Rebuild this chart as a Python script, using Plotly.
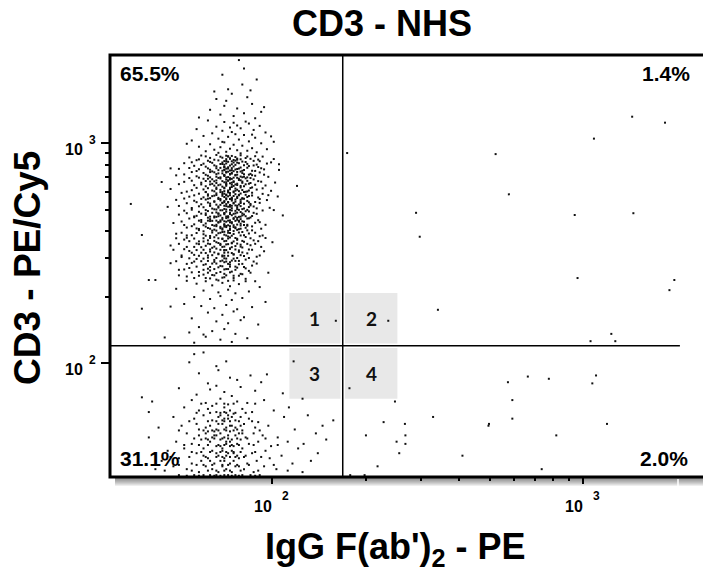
import math
import plotly.graph_objects as go

# ---------------- chart values ----------------
TITLE = "CD3 - NHS"
X_LABEL = "IgG F(ab')<sub>2</sub> - PE"
Y_LABEL = "CD3 - PE/Cy5"

X_GATE = 168.4          # vertical quadrant gate (IgG F(ab')2 - PE)
Y_GATE = 120.2          # horizontal quadrant gate (CD3 - PE/Cy5)
H_GATE_END = 2050       # where the horizontal gate line stops

QUADRANT_PCT = ["65.5%", "1.4%", "31.1%", "2.0%"]   # UL, UR, LL, LR
QUADRANT_IDS = ["1", "2", "3", "4"]
ID_BOX_X = [113.4, 252.5]
ID_BOX_Y = [68.9, 208.8]

MAJOR_TICKS = [100, 1000]
MAJOR_BASE = ["10", "10"]
MAJOR_EXP = ["2", "3"]
MINOR_TICKS = [200, 300, 400, 500, 600, 700, 800, 900]
X_RANGE = [30.0, 2506.0]
Y_RANGE = [30.4, 2520.0]

# events, (IgG F(ab')2-PE, CD3-PE/Cy5)
UPPER_TOP = [
    (78, 2390), (81, 2190), (72, 1760), (89, 1950), (74, 1680), (66, 1590), (83, 1620), (70, 1480),
    (86, 1510), (63, 1420), (77, 1440), (92, 1390), (68, 1350), (75, 1330), (81, 1370), (58, 1310),
    (88, 1300), (71, 1560), (80, 1850), (65, 1720), (94, 1460), (69, 2050), (85, 1740),
    (62, 1270), (70, 1250), (75, 1240), (84, 1230), (91, 1200), (66, 1190), (73, 1180), (79, 1170),
    (57, 1160), (87, 1150), (69, 1140), (95, 1120), (64, 1110), (76, 1100), (81, 1090), (60, 1080),
    (72, 1070), (88, 1060), (67, 1050), (78, 1040), (55, 1030), (84, 1020), (70, 1010), (92, 1000),
    (63, 990), (75, 985), (80, 975), (58, 965), (68, 960), (86, 950), (73, 945), (96, 940),
    (65, 935), (77, 930), (83, 925), (61, 920), (71, 915), (89, 910), (67, 905), (79, 900),
    (74, 1125), (86, 1095), (69, 1015), (99, 1075), (53, 995), (82, 1255), (77, 1205),
]
UPPER_MID = [
    (59, 880), (66, 885), (71, 878), (74, 876), (79, 882), (88, 874), (93, 870),
    (54, 862), (63, 858), (69, 860), (73, 855), (77, 852), (82, 857), (85, 850), (101, 848),
    (57, 838), (62, 833), (67, 836), (70, 830), (74, 828), (76, 834), (80, 826), (87, 832), (91, 829),
    (52, 812), (60, 808), (64, 815), (68, 805), (71, 810), (74, 803), (78, 812), (83, 806), (89, 800), (96, 809),
    (56, 790), (61, 783), (66, 786), (70, 781), (72, 778), (75, 785), (79, 776), (84, 788), (90, 780),
    (50, 765), (58, 762), (63, 758), (67, 755), (70, 760), (73, 752), (77, 764), (81, 756), (86, 750), (94, 761), (105, 757),
    (55, 740), (60, 733), (65, 738), (69, 730), (71, 736), (74, 728), (77, 741), (80, 732), (85, 726), (91, 737),
    (49, 715), (57, 708), (62, 712), (66, 705), (70, 710), (72, 702), (76, 714), (79, 706), (83, 700), (88, 712), (97, 704),
    (54, 695), (60, 690), (64, 686), (68, 692), (71, 684), (74, 689), (78, 681), (82, 693), (87, 685),
    (52, 668), (59, 662), (63, 670), (66, 660), (70, 665), (73, 658), (75, 667), (80, 661), (84, 655), (92, 669), (102, 663),
    (56, 645), (61, 638), (65, 642), (69, 635), (71, 641), (74, 633), (77, 646), (81, 637), (86, 630), (95, 643),
    (47, 620), (55, 612), (60, 617), (64, 610), (68, 614), (70, 606), (73, 618), (76, 609), (80, 613), (83, 604), (89, 616), (99, 608),
]
UPPER_CORE = [
    (51, 595), (58, 590), (62, 586), (66, 592), (69, 588), (71, 584), (73, 594), (76, 587), (79, 591), (82, 583), (86, 596), (93, 589),
    (54, 572), (60, 568), (64, 575), (67, 565), (70, 570), (72, 574), (74, 566), (77, 571), (80, 563), (84, 576), (90, 567), (104, 573),
    (49, 553), (56, 548), (61, 555), (65, 545), (68, 550), (70, 546), (71, 556), (74, 549), (76, 543), (79, 554), (83, 547), (88, 541), (96, 552),
    (53, 534), (59, 528), (63, 532), (66, 526), (69, 535), (71, 529), (73, 524), (75, 533), (78, 527), (81, 531), (85, 522), (91, 536),
    (46, 514), (55, 508), (60, 512), (64, 505), (67, 510), (70, 503), (72, 515), (74, 507), (77, 511), (80, 502), (84, 513), (89, 506), (98, 509),
    (52, 494), (58, 488), (62, 492), (66, 485), (69, 496), (71, 489), (73, 484), (76, 493), (79, 487), (82, 491), (87, 483), (93, 495),
    (50, 474), (57, 468), (61, 472), (65, 465), (68, 470), (70, 476), (72, 466), (74, 471), (78, 463), (81, 475), (86, 467), (108, 470),
    (54, 455), (59, 448), (63, 452), (66, 445), (69, 450), (71, 457), (73, 446), (75, 453), (77, 449), (80, 442), (84, 456), (90, 447),
    (48, 434), (56, 428), (61, 432), (64, 425), (67, 436), (70, 429), (72, 424), (74, 433), (77, 427), (79, 431), (83, 422), (88, 435), (95, 426),
    (53, 414), (58, 408), (62, 412), (65, 405), (69, 410), (71, 416), (73, 404), (76, 411), (78, 407), (82, 413), (86, 402), (92, 409),
    (60, 398), (66, 401), (70, 396), (75, 399), (80, 395),
    (70, 780), (72, 768), (74, 755), (71, 742), (73, 725), (70, 718), (75, 698), (72, 676), (74, 662), (71, 650),
    (70, 628), (73, 622), (75, 604), (72, 598), (71, 580), (74, 562), (73, 558), (70, 540), (72, 538), (74, 520),
    (71, 518), (73, 498), (70, 480), (75, 478), (72, 460), (71, 440), (74, 438), (73, 420), (70, 418), (72, 392),
    (76, 760), (77, 720), (78, 690), (76, 650), (77, 615), (78, 580), (76, 555), (77, 520), (78, 498), (76, 480),
    (77, 458), (78, 440), (76, 415), (66, 770), (67, 730), (68, 700), (65, 672), (67, 645), (66, 620), (68, 600),
    (65, 578), (67, 558), (68, 525), (66, 500), (67, 480), (65, 460), (68, 440), (66, 420), (69, 395), (80, 750),
    (81, 705), (80, 670), (79, 640), (81, 600), (80, 560), (79, 535), (81, 505), (80, 470), (79, 452), (81, 425),
    (63, 740), (62, 690), (63, 650), (61, 600), (62, 560), (63, 520), (61, 480), (62, 445), (84, 720), (85, 660),
    (84, 610), (83, 570), (85, 530), (84, 490), (83, 455), (69, 805), (71, 830), (73, 850), (75, 818), (77, 842),
    (72, 870), (70, 755), (74, 735), (73, 685), (71, 665), (75, 640), (72, 610), (70, 590),
]
UPPER_FILL = [
    (61, 872), (68, 869), (72, 873), (76, 866), (83, 871),
    (58, 845), (65, 842), (71, 847), (75, 840), (79, 846), (90, 843),
    (55, 820), (63, 823), (69, 818), (72, 824), (77, 817), (82, 822), (99, 819),
    (59, 797), (65, 794), (70, 799), (73, 792), (76, 798), (81, 795), (87, 793),
    (54, 772), (62, 769), (68, 773), (71, 767), (74, 771), (78, 768), (83, 774), (92, 770),
    (57, 748), (64, 745), (69, 750), (72, 743), (75, 747), (79, 744), (88, 749),
    (52, 722), (61, 719), (66, 724), (70, 717), (73, 721), (76, 718), (81, 723), (86, 716), (94, 720),
    (58, 698), (63, 700), (67, 696), (71, 699), (73, 694), (77, 697), (80, 701), (85, 695),
    (55, 676), (61, 674), (66, 678), (69, 673), (72, 677), (75, 672), (79, 679), (83, 675), (90, 673),
    (50, 652), (59, 650), (64, 654), (68, 649), (71, 653), (74, 648), (77, 655), (82, 651), (88, 648),
    (57, 627), (62, 625), (66, 629), (70, 624), (73, 628), (76, 623), (79, 630), (85, 626), (93, 624),
    (53, 603), (61, 601), (65, 605), (69, 600), (72, 604), (75, 599), (78, 606), (82, 602),
    (56, 580), (62, 578), (66, 582), (69, 577), (73, 581), (75, 576), (78, 583), (86, 579), (97, 581),
    (52, 561), (59, 559), (63, 563), (68, 558), (71, 562), (74, 557), (77, 564), (81, 560), (91, 558),
    (57, 540), (62, 538), (65, 542), (69, 537), (72, 541), (75, 536), (79, 543), (84, 539),
    (50, 519), (58, 517), (63, 521), (67, 516), (70, 520), (73, 515), (76, 522), (79, 518), (87, 516),
    (55, 499), (61, 497), (65, 501), (68, 496), (71, 500), (74, 495), (77, 502), (83, 498), (101, 497),
    (53, 481), (59, 479), (64, 483), (67, 478), (70, 482), (73, 477), (77, 484), (80, 480), (89, 478),
    (56, 461), (62, 459), (66, 463), (69, 458), (72, 462), (75, 457), (79, 464), (85, 460),
    (51, 441), (59, 439), (63, 443), (67, 438), (70, 442), (73, 437), (76, 444), (81, 440), (91, 438),
    (55, 420), (61, 418), (65, 422), (68, 417), (71, 421), (75, 416), (79, 423), (86, 419),
    (58, 403), (64, 401), (69, 405), (72, 400), (77, 404), (83, 402),
    (53, 372), (60, 370), (65, 374), (69, 369), (73, 373), (77, 368), (82, 375), (95, 371),
    (57, 350), (63, 348), (67, 352), (71, 347), (74, 351), (79, 346), (88, 349),
    (52, 330), (60, 328), (66, 332), (70, 327), (73, 331), (78, 326), (84, 329),
    (56, 311), (62, 309), (67, 313), (70, 308), (75, 312), (81, 307),
    (59, 291), (65, 289), (69, 293), (73, 288), (78, 292), (87, 290),
    (54, 271), (62, 269), (67, 273), (72, 268), (77, 272), (82, 270),
    (60, 253), (65, 251), (70, 255), (75, 250), (80, 254),
]
UPPER_LOWFILL = [
    (51, 392), (57, 391), (64, 393), (68, 392), (73, 391), (78, 393), (88, 392),
    (53, 381), (61, 380), (66, 382), (71, 381), (74, 380), (81, 382), (93, 381),
    (49, 370), (56, 369), (63, 371), (67, 370), (72, 369), (76, 371), (85, 370),
    (54, 359), (60, 358), (65, 360), (70, 359), (75, 358), (80, 360), (90, 359),
    (50, 349), (58, 348), (62, 350), (68, 349), (72, 348), (77, 350), (83, 349),
    (53, 338), (59, 337), (65, 339), (69, 338), (74, 337), (79, 339), (92, 338),
    (48, 328), (57, 327), (63, 329), (68, 328), (71, 327), (76, 329), (86, 328),
    (55, 318), (61, 317), (65, 319), (70, 318), (74, 317), (80, 319),
    (51, 309), (58, 308), (64, 310), (69, 309), (72, 308), (79, 310), (91, 309),
    (54, 300), (60, 299), (66, 301), (70, 300), (75, 299), (84, 301),
    (49, 291), (56, 290), (62, 292), (68, 291), (71, 290), (76, 292),
    (53, 283), (61, 282), (66, 284), (72, 283), (78, 282), (89, 284),
    (57, 275), (63, 274), (69, 276), (73, 275), (81, 274),
    (52, 267), (60, 266), (65, 268), (70, 267), (76, 266),
    (55, 259), (62, 258), (68, 260), (73, 259), (85, 258),
    (50, 251), (58, 250), (64, 252), (71, 251), (78, 250),
    (56, 244), (63, 243), (69, 245), (75, 244),
    (53, 237), (61, 236), (67, 238), (72, 237), (82, 236),
    (56, 465), (63, 464), (67, 466), (71, 465), (76, 464), (82, 466),
    (58, 445), (64, 444), (68, 446), (72, 445), (78, 444),
    (52, 425), (60, 424), (66, 426), (70, 425), (75, 424), (83, 426),
    (57, 410), (63, 409), (68, 411), (73, 410), (79, 409),
]
UPPER_LOW = [
    (49, 388), (55, 382), (60, 386), (63, 379), (67, 390), (70, 384), (72, 377), (75, 387), (79, 381), (84, 389), (91, 378),
    (52, 365), (58, 358), (62, 362), (66, 355), (69, 367), (71, 360), (74, 353), (77, 364), (81, 357), (87, 362), (100, 355),
    (47, 343), (56, 338), (61, 342), (64, 335), (68, 345), (70, 339), (73, 333), (76, 341), (80, 336), (85, 344),
    (54, 324), (59, 318), (63, 322), (67, 315), (70, 326), (72, 319), (75, 313), (78, 321), (83, 316), (94, 323),
    (51, 304), (57, 298), (62, 302), (65, 295), (69, 306), (71, 299), (74, 293), (77, 301), (82, 296), (89, 305),
    (55, 286), (60, 280), (64, 284), (68, 277), (70, 288), (73, 281), (76, 275), (80, 283), (86, 278),
    (50, 266), (58, 260), (63, 264), (66, 257), (71, 268), (74, 261), (79, 255), (84, 263), (97, 258),
    (53, 248), (61, 244), (66, 240), (70, 246), (75, 238), (82, 242), (88, 236), (57, 230), (64, 226), (69, 232),
    (73, 224), (78, 229), (91, 222), (49, 218), (60, 214), (67, 210), (72, 216), (76, 208), (84, 212), (56, 200),
    (63, 196), (68, 202), (74, 194), (80, 198), (95, 190), (52, 186), (59, 182), (65, 178), (71, 184), (77, 176),
    (86, 180), (62, 170), (69, 166), (75, 172), (81, 162), (55, 160), (66, 155), (72, 152), (79, 157), (90, 150),
    (58, 146), (64, 140), (70, 143), (76, 136), (61, 132), (68, 128), (74, 125), (83, 130), (56, 124),
    (35, 530), (38, 383), (44, 667), (47, 769), (47, 285), (40, 239), (42, 239), (38, 177), (47, 181),
    (116, 308), (120, 640), (105, 803), (101, 1016), (160, 156),
]
LOWER_LEFT = [
    (54, 101), (71, 102), (67, 93), (62, 81), (77, 84), (96, 89), (117, 102), (60, 112), (56, 110), (45, 131),
    (54, 138), (60, 135), (66, 97), (85, 88), (73, 86), (58, 90), (92, 82),
    (50, 77), (63, 76), (70, 74), (79, 78), (88, 75), (108, 73), (57, 72), (74, 71), (66, 79),
    (41, 67), (38, 70), (55, 68), (61, 66), (68, 69), (72, 65), (77, 67), (83, 66), (94, 68), (125, 69), (64, 64),
    (52, 63), (58, 61), (62, 62), (66, 60), (70, 63), (73, 61), (75, 59), (80, 62), (86, 60), (101, 61), (113, 63), (40, 60),
    (48, 57), (56, 56), (60, 58), (64, 55), (67, 57), (70, 56), (72, 58), (76, 55), (79, 57), (84, 56), (90, 54), (109, 57), (130, 58),
    (43, 51), (51, 52), (57, 53), (61, 51), (63, 52), (66, 50), (69, 53), (71, 51), (74, 52), (77, 50), (81, 53), (88, 51), (97, 52), (118, 50), (145, 52),
    (53, 48), (58, 47), (62, 49), (65, 47), (68, 48), (70, 46), (73, 49), (76, 47), (78, 48), (82, 46), (87, 48), (93, 47), (104, 46), (157, 55), (138, 48),
    (40, 46), (49, 44), (55, 43), (59, 45), (63, 44), (66, 42), (68, 45), (71, 43), (73, 44), (75, 42), (79, 45), (84, 43), (90, 44), (99, 42), (112, 44), (126, 43), (149, 45),
    (46, 40), (52, 41), (57, 39), (60, 41), (64, 40), (67, 38), (69, 41), (72, 39), (74, 40), (77, 38), (80, 41), (86, 39), (95, 40), (107, 38), (121, 41), (140, 39),
    (44, 36), (50, 37), (55, 35), (59, 36), (62, 37), (65, 35), (68, 36), (70, 37), (73, 35), (75, 36), (78, 37), (83, 35), (89, 36), (98, 37), (116, 35), (133, 36),
    (42, 33), (48, 34), (53, 33), (58, 32), (61, 34), (64, 33), (67, 32), (69, 34), (71, 33), (74, 32), (76, 34), (81, 33), (87, 32), (94, 34), (103, 33), (125, 32),
    (50, 31), (56, 31), (60, 31), (63, 31), (66, 31), (70, 31), (72, 31), (76, 31), (80, 31), (85, 31), (91, 31),
    (70, 50), (72, 47), (68, 42), (71, 38), (73, 52), (69, 55), (74, 45), (66, 47), (75, 39), (67, 53), (71, 44),
    (65, 49), (77, 43), (70, 36), (72, 56), (64, 46), (76, 51), (69, 40), (62, 45), (80, 48), (58, 50), (60, 38),
    (78, 34), (73, 42), (68, 58), (63, 36), (82, 38), (70, 60), (74, 57), (61, 48), (79, 52), (66, 39),
]
LOWER_FILL = [
    (53, 30.8), (58, 30.8), (65, 30.8), (68, 30.8), (74, 30.8), (78, 30.8), (88, 30.8),
    (45, 32.5), (55, 32.5), (62, 32.5), (66, 32.5), (70, 32.5), (73, 32.5), (79, 32.5), (90, 32.5), (112, 32.5),
    (50, 34.5), (57, 34.5), (60, 34.5), (64, 34.5), (69, 34.5), (72, 34.5), (77, 34.5), (84, 34.5), (101, 34.5),
    (47, 37.5), (54, 37.5), (61, 37.5), (66, 37.5), (69, 37.5), (73, 37.5), (76, 37.5), (81, 37.5), (92, 37.5),
    (55, 39.5), (59, 39.5), (63, 39.5), (68, 39.5), (71, 39.5), (75, 39.5), (79, 39.5), (88, 39.5),
    (52, 42.5), (58, 42.5), (62, 42.5), (67, 42.5), (70, 42.5), (74, 42.5), (78, 42.5), (87, 42.5), (104, 42.5),
    (56, 45.5), (61, 45.5), (65, 45.5), (69, 45.5), (72, 45.5), (77, 45.5), (83, 45.5), (95, 45.5),
    (50, 49.5), (60, 49.5), (64, 49.5), (67, 49.5), (71, 49.5), (75, 49.5), (80, 49.5), (91, 49.5),
    (54, 54.5), (62, 54.5), (66, 54.5), (70, 54.5), (73, 54.5), (78, 54.5), (86, 54.5),
    (57, 59.5), (63, 59.5), (68, 59.5), (71, 59.5), (76, 59.5), (82, 59.5),
    (59, 65.5), (66, 65.5), (70, 65.5), (75, 65.5), (88, 65.5),
]
UPPER_RIGHT = [
    (341, 175), (1897, 215), (1967, 239), (1233, 136), (1270, 126), (1057, 126), (236, 156), (1439, 1321),
    (1836, 1241), (1084, 1050), (523, 893), (577, 586), (290, 483), (298, 376), (940, 472), (960, 244),
    (1452, 481), (174, 903),
]
LOWER_RIGHT = [
    (573, 82), (664, 87), (776, 85), (1101, 88), (1071, 81), (592, 68), (592, 56), (498, 53), (496, 52),
    (329, 57), (409, 38), (820, 47), (1194, 53), (736, 33), (228, 54), (267, 53), (200, 47), (268, 47),
    (268, 43), (251, 44), (256, 39), (218, 34), (177, 77), (198, 31), (178, 31), (248, 67),
]

# ---------------- figure ----------------
# the page has an 8 px body margin; the figure is sized so that the plot
# area lands at x 110..707, y 55..477 of the 711x570 window
OFF = 8
W, H = 711 - OFF, 570 - OFF
SX0, SX1, SY0, SY1 = 110, 707, 55, 477          # plot area in window pixels
ML, MR, MT, MB = SX0 - OFF, 711 - SX1, SY0 - OFF, 570 - SY1
PW, PH = SX1 - SX0, SY1 - SY0
px, py = 1.0 / PW, 1.0 / PH
FONT = "Liberation Sans, Arial, sans-serif"


def pxx(sx):
    return (sx - SX0) * px


def pyy(sy):
    return 1 - (sy - SY0) * py


events = (UPPER_TOP + UPPER_MID + UPPER_CORE + UPPER_FILL + UPPER_LOWFILL + UPPER_LOW +
          LOWER_LEFT + LOWER_FILL + UPPER_RIGHT + LOWER_RIGHT)
ex = [p[0] for p in events]
ey = [p[1] for p in events]

fig = go.Figure()
fig.add_trace(go.Scatter(
    x=ex, y=ey, mode="markers",
    marker=dict(symbol="square", size=2, color="#111111", line=dict(width=0)),
    hoverinfo="skip", showlegend=False,
))

shapes = []
# drop shadow of the frame
for k in range(1, 10):
    shapes.append(dict(type="rect", xref="paper", yref="paper", layer="below",
                       x0=5 * px, x1=1 + min(k, 3) * px, y0=-k * py, y1=1 - 5 * py,
                       fillcolor="rgba(0,0,0,0.065)", line=dict(width=0)))
shapes.append(dict(type="rect", xref="paper", yref="paper", layer="below",
                   x0=0, x1=1, y0=0, y1=1, fillcolor="white", line=dict(width=0)))
shapes.append(dict(type="line", xref="paper", yref="paper", layer="below",
                   x0=pxx(678), x1=pxx(678), y0=-2 * py, y1=-15 * py,
                   line=dict(color="white", width=1.5)))

# quadrant id boxes (split by the gates with a small white gap)
gx = 10 ** (2.2 / 310.5)
gy = 10 ** (2.2 / 220)
bx = [(ID_BOX_X[0], X_GATE / gx), (X_GATE * gx, ID_BOX_X[1])]
by = [(Y_GATE * gy, ID_BOX_Y[1]), (ID_BOX_Y[0], Y_GATE / gy)]
annotations = []
k = 0
for r in range(2):
    for c in range(2):
        shapes.append(dict(type="rect", xref="x", yref="y", layer="below",
                           x0=bx[c][0], x1=bx[c][1], y0=by[r][0], y1=by[r][1],
                           fillcolor="#e8e8e8", line=dict(width=0)))
        cx = (math.log10(bx[c][0]) + math.log10(bx[c][1])) / 2
        cy = (math.log10(by[r][0]) + math.log10(by[r][1])) / 2
        annotations.append(dict(x=cx, y=cy, xref="x", yref="y",
                                text="<b>%s</b>" % QUADRANT_IDS[k], showarrow=False,
                                font=dict(family="Lato, Open Sans, sans-serif", size=19, color="#111")))
        k += 1

# gates
lx0, lx1 = math.log10(X_RANGE[0]), math.log10(X_RANGE[1])
shapes.append(dict(type="line", xref="x", yref="paper", layer="above",
                   x0=X_GATE, x1=X_GATE, y0=0, y1=1, line=dict(color="black", width=1.5)))
shapes.append(dict(type="line", xref="paper", yref="y", layer="above",
                   x0=0, x1=(math.log10(H_GATE_END) - lx0) / (lx1 - lx0),
                   y0=Y_GATE, y1=Y_GATE, line=dict(color="black", width=1.5)))
# frame
shapes.append(dict(type="rect", xref="paper", yref="paper", layer="above",
                   x0=0, x1=1, y0=0, y1=1, line=dict(color="black", width=3)))

# decade tick labels "10" + raised exponent, placed at the axis tick values
BASE_FONT = dict(family=FONT, size=16, color="black")
EXP_FONT = dict(family=FONT, size=12, color="black")
for v, b, e in zip(MAJOR_TICKS, MAJOR_BASE, MAJOR_EXP):
    lv = math.log10(v)
    # x axis
    annotations.append(dict(x=lv, y=pyy(506), xref="x", yref="paper", xanchor="right",
                            yanchor="middle", xshift=1, text="<b>%s</b>" % b, showarrow=False,
                            font=BASE_FONT, borderpad=0))
    annotations.append(dict(x=lv, y=pyy(496), xref="x", yref="paper", xanchor="left",
                            yanchor="middle", xshift=9, text="<b>%s</b>" % e, showarrow=False,
                            font=EXP_FONT, borderpad=0))
    # y axis
    annotations.append(dict(x=pxx(84), y=lv, xref="paper", yref="y", xanchor="right",
                            yanchor="middle", yshift=-6, text="<b>%s</b>" % b, showarrow=False,
                            font=BASE_FONT, borderpad=0))
    annotations.append(dict(x=pxx(88), y=lv, xref="paper", yref="y", xanchor="left",
                            yanchor="middle", yshift=3, text="<b>%s</b>" % e, showarrow=False,
                            font=EXP_FONT, borderpad=0))

pct_pos = [(pxx(118), pyy(73.5), "left"),
           (pxx(692), pyy(73.5), "right"),
           (pxx(118), pyy(458.5), "left"),
           (pxx(690), pyy(458.5), "right")]
for (xp, yp, anc), txt in zip(pct_pos, QUADRANT_PCT):
    annotations.append(dict(x=xp, y=yp, xref="paper", yref="paper", xanchor=anc, yanchor="middle",
                            text="<b>%s</b>" % txt, showarrow=False,
                            font=dict(family=FONT, size=21, color="black")))

annotations.append(dict(x=pxx(382), y=pyy(23), xref="paper", yref="paper",
                        text="<b>%s</b>" % TITLE, showarrow=False, yanchor="middle",
                        font=dict(family=FONT, size=36, color="black")))
annotations.append(dict(x=pxx(395), y=pyy(549), xref="paper", yref="paper",
                        text="<b>%s</b>" % X_LABEL, showarrow=False, yanchor="middle",
                        font=dict(family=FONT, size=36, color="black")))
annotations.append(dict(x=pxx(27), y=pyy(268), xref="paper", yref="paper",
                        text="<b>%s</b>" % Y_LABEL, showarrow=False, textangle=-90,
                        xanchor="center", yanchor="middle",
                        font=dict(family=FONT, size=37, color="black")))

axis_common = dict(type="log", tickmode="array", tickvals=MAJOR_TICKS, showticklabels=False,
                   ticks="outside", tickcolor="black", tickwidth=1.5,
                   showgrid=False, zeroline=False, showline=False)
fig.update_layout(
    width=W, height=H, margin=dict(l=ML, r=MR, t=MT, b=MB, pad=0),
    paper_bgcolor="white", plot_bgcolor="white",
    xaxis=dict(range=[lx0, lx1], ticklen=6,
               minor=dict(tickmode="array", tickvals=MINOR_TICKS, ticks="outside",
                          ticklen=3, tickwidth=1.5, tickcolor="black", showgrid=False),
               **axis_common),
    yaxis=dict(range=[math.log10(Y_RANGE[0]), math.log10(Y_RANGE[1])], ticklen=8,
               minor=dict(tickmode="array", tickvals=MINOR_TICKS, ticks="outside",
                          ticklen=4, tickwidth=1.5, tickcolor="black", showgrid=False),
               **axis_common),
    shapes=shapes, annotations=annotations, showlegend=False,
)
fig.write_html("out.html")
